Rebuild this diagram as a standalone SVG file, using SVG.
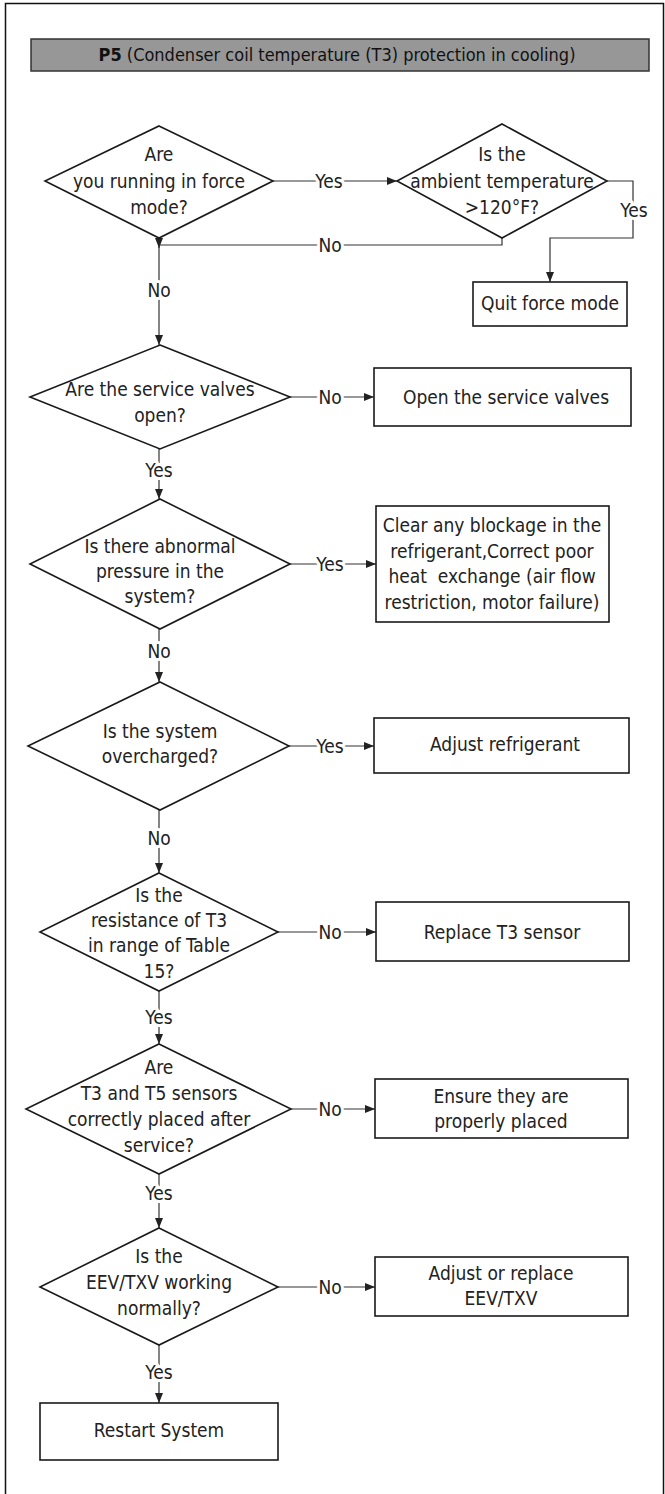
<svg xmlns="http://www.w3.org/2000/svg" width="665" height="1494" viewBox="0 0 665 1494">
<style>
  text { font-family: 'Liberation Sans Narrow', 'DejaVu Sans Condensed', 'Liberation Sans', sans-serif; font-size: 19px; fill: #222; text-anchor: middle; }
  .title { font-size: 18px; fill: #111; }
  .shape { fill: #fff; stroke: #1a1a1a; stroke-width: 1.6; }
  .conn { fill: none; stroke: #333; stroke-width: 1.2; }
  .lbl { stroke: #fff; stroke-width: 6; paint-order: stroke; stroke-linejoin: round; }
</style>
<defs>
  <marker id="arr" markerUnits="userSpaceOnUse" markerWidth="10" markerHeight="8" refX="10" refY="4" orient="auto">
    <path d="M0,0 L10,4 L0,8 z" fill="#222"/>
  </marker>
</defs>
<rect x="0" y="0" width="665" height="1494" fill="#fff"/>
<rect id="frame" x="5.5" y="3.5" width="658" height="1500" fill="none" stroke="#111" stroke-width="1.5"/>

<g id="title">
  <rect x="31" y="39" width="618" height="32" fill="#979797" stroke="#333" stroke-width="1.5"/>
  <text class="title" x="337" y="61"><tspan font-weight="bold">P5</tspan> (Condenser coil temperature (T3) protection in cooling)</text>
</g>

<g id="connectors">
  <path class="conn" d="M273,181 H397" marker-end="url(#arr)"/>
  <path class="conn" d="M607,181 H633 V238 H550 V282" marker-end="url(#arr)"/>
  <path class="conn" d="M502,238 V245 H159"/>
  <path class="conn" d="M159,238 V248" marker-end="url(#arr)"/>
  <path class="conn" d="M159,245 V345" marker-end="url(#arr)"/>
  <path class="conn" d="M290,397 H374" marker-end="url(#arr)"/>
  <path class="conn" d="M159,449 V499" marker-end="url(#arr)"/>
  <path class="conn" d="M290,564 H376" marker-end="url(#arr)"/>
  <path class="conn" d="M159,629 V682" marker-end="url(#arr)"/>
  <path class="conn" d="M289,746 H374" marker-end="url(#arr)"/>
  <path class="conn" d="M159,810 V873" marker-end="url(#arr)"/>
  <path class="conn" d="M278,932 H376" marker-end="url(#arr)"/>
  <path class="conn" d="M159,991 V1044" marker-end="url(#arr)"/>
  <path class="conn" d="M291,1109 H375" marker-end="url(#arr)"/>
  <path class="conn" d="M159,1174 V1228" marker-end="url(#arr)"/>
  <path class="conn" d="M278,1287 H375" marker-end="url(#arr)"/>
  <path class="conn" d="M159,1345 V1403" marker-end="url(#arr)"/>
  <g id="labels">
    <text class="lbl" x="329" y="188">Yes</text>
    <text class="lbl" x="634" y="217">Yes</text>
    <text class="lbl" x="330" y="252">No</text>
    <text class="lbl" x="159" y="297">No</text>
    <text class="lbl" x="330" y="404">No</text>
    <text class="lbl" x="159" y="477">Yes</text>
    <text class="lbl" x="330" y="571">Yes</text>
    <text class="lbl" x="159" y="658">No</text>
    <text class="lbl" x="330" y="753">Yes</text>
    <text class="lbl" x="159" y="845">No</text>
    <text class="lbl" x="330" y="939">No</text>
    <text class="lbl" x="159" y="1024">Yes</text>
    <text class="lbl" x="330" y="1116">No</text>
    <text class="lbl" x="159" y="1200">Yes</text>
    <text class="lbl" x="330" y="1294">No</text>
    <text class="lbl" x="159" y="1379">Yes</text>
  </g>
</g>

<g id="d1">
  <polygon class="shape" points="159,126 273,181 159,238 45,181"/>
  <text x="159" y="161">Are</text>
  <text x="159" y="188">you running in force</text>
  <text x="159" y="214">mode?</text>
</g>
<g id="d2">
  <polygon class="shape" points="502,124 607,181 502,238 397,181"/>
  <text x="502" y="161">Is the</text>
  <text x="502" y="188">ambient temperature</text>
  <text x="502" y="214">&gt;120°F?</text>
</g>
<g id="quit">
  <rect class="shape" x="473" y="282" width="154" height="44"/>
  <text x="550" y="310">Quit force mode</text>
</g>
<g id="d3">
  <polygon class="shape" points="160,345 290,397 160,449 30,397"/>
  <text x="160" y="396">Are the service valves</text>
  <text x="160" y="422">open?</text>
</g>
<g id="open">
  <rect class="shape" x="374" y="368" width="257" height="58"/>
  <text x="506" y="404">Open the service valves</text>
</g>
<g id="d4">
  <polygon class="shape" points="160,499 290,564 160,629 30,564"/>
  <text x="160" y="553">Is there abnormal</text>
  <text x="160" y="578">pressure in the</text>
  <text x="160" y="603">system?</text>
</g>
<g id="clear">
  <rect class="shape" x="376" y="506" width="233" height="116"/>
  <text x="492" y="532">Clear any blockage in the</text>
  <text x="492" y="558">refrigerant,Correct poor</text>
  <text x="492" y="583" xml:space="preserve">heat  exchange (air flow</text>
  <text x="492" y="609">restriction, motor failure)</text>
</g>
<g id="d5">
  <polygon class="shape" points="160,682 289,746 160,810 28,746"/>
  <text x="160" y="738">Is the system</text>
  <text x="160" y="763">overcharged?</text>
</g>
<g id="adjust">
  <rect class="shape" x="374" y="718" width="255" height="55"/>
  <text x="505" y="751">Adjust refrigerant</text>
</g>
<g id="d6">
  <polygon class="shape" points="159,873 278,932 159,991 40,932"/>
  <text x="159" y="902">Is the</text>
  <text x="159" y="927">resistance of T3</text>
  <text x="159" y="952">in range of Table</text>
  <text x="159" y="978">15?</text>
</g>
<g id="replace">
  <rect class="shape" x="376" y="902" width="253" height="59"/>
  <text x="502" y="939">Replace T3 sensor</text>
</g>
<g id="d7">
  <polygon class="shape" points="159,1044 291,1109 159,1174 26,1109"/>
  <text x="159" y="1074">Are</text>
  <text x="159" y="1100">T3 and T5 sensors</text>
  <text x="159" y="1126">correctly placed after</text>
  <text x="159" y="1152">service?</text>
</g>
<g id="ensure">
  <rect class="shape" x="375" y="1079" width="253" height="59"/>
  <text x="501" y="1103">Ensure they are</text>
  <text x="501" y="1128">properly placed</text>
</g>
<g id="d8">
  <polygon class="shape" points="159,1228 278,1287 159,1345 40,1287"/>
  <text x="159" y="1263">Is the</text>
  <text x="159" y="1289">EEV/TXV working</text>
  <text x="159" y="1315">normally?</text>
</g>
<g id="adjrep">
  <rect class="shape" x="375" y="1257" width="253" height="59"/>
  <text x="501" y="1280">Adjust or replace</text>
  <text x="501" y="1305">EEV/TXV</text>
</g>
<g id="restart">
  <rect class="shape" x="40" y="1403" width="238" height="57"/>
  <text x="159" y="1437">Restart System</text>
</g>
</svg>
